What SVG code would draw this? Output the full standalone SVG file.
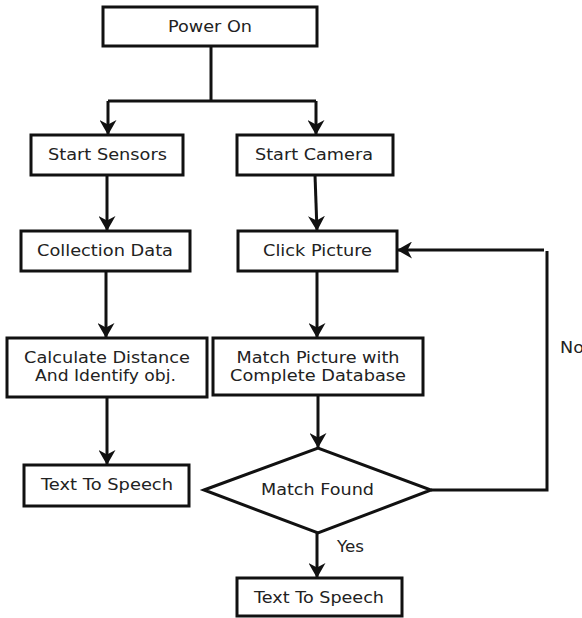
<svg xmlns="http://www.w3.org/2000/svg" width="582" height="618" viewBox="0 0 582 618">
<style>
.box{fill:#fff;stroke:#111;stroke-width:3}
.ln{fill:none;stroke:#111;stroke-width:3}
.t{font-family:"DejaVu Sans",Verdana,sans-serif;font-size:15px;fill:#222;text-anchor:middle}
.ts{text-anchor:start}
</style>
<defs>
<marker id="ah" markerUnits="userSpaceOnUse" markerWidth="15" markerHeight="17" viewBox="0 0 15 17" refX="15" refY="8.5" orient="auto">
<path d="M15,8.5 L0,0 L4.5,8.5 L0,17 Z" fill="#111"/>
</marker>
</defs>
<rect width="582" height="618" fill="#fff"/>
<g id="connectors">
<path class="ln" d="M211,46 V101"/>
<path class="ln" d="M108,101 H316"/>
<path class="ln" d="M108,101 V135" marker-end="url(#ah)"/>
<path class="ln" d="M316,101 V135" marker-end="url(#ah)"/>
<path class="ln" d="M107,175 V231" marker-end="url(#ah)"/>
<path class="ln" d="M315,175 L317,231" marker-end="url(#ah)"/>
<path class="ln" d="M106,271 V338" marker-end="url(#ah)"/>
<path class="ln" d="M317,271 V338" marker-end="url(#ah)"/>
<path class="ln" d="M107,397 V465" marker-end="url(#ah)"/>
<path class="ln" d="M318,395 V448" marker-end="url(#ah)"/>
<path class="ln" d="M317,533 V578" marker-end="url(#ah)"/>
<path class="ln" d="M431,490 H547 V251"/>
<path class="ln" d="M544,250 H397" marker-end="url(#ah)"/>
<text class="t ts" x="337" y="552" textLength="27" lengthAdjust="spacingAndGlyphs">Yes</text>
<text class="t ts" x="560" y="353" textLength="24" lengthAdjust="spacingAndGlyphs">No</text>
</g>
<g id="power-on">
<rect class="box" x="103" y="7" width="214" height="39"/>
<text class="t" x="210" y="32" textLength="84" lengthAdjust="spacingAndGlyphs">Power On</text>
</g>
<g id="start-sensors">
<rect class="box" x="31" y="135" width="152" height="40"/>
<text class="t" x="107.5" y="160" textLength="119" lengthAdjust="spacingAndGlyphs">Start Sensors</text>
</g>
<g id="start-camera">
<rect class="box" x="237" y="135" width="156" height="40"/>
<text class="t" x="314" y="160" textLength="118" lengthAdjust="spacingAndGlyphs">Start Camera</text>
</g>
<g id="collection-data">
<rect class="box" x="21" y="231" width="169" height="40"/>
<text class="t" x="105" y="256" textLength="136" lengthAdjust="spacingAndGlyphs">Collection Data</text>
</g>
<g id="click-picture">
<rect class="box" x="238" y="231" width="159" height="40"/>
<text class="t" x="317.5" y="256" textLength="109" lengthAdjust="spacingAndGlyphs">Click Picture</text>
</g>
<g id="calculate-distance">
<rect class="box" x="7" y="338" width="200" height="59"/>
<text class="t" x="107" y="363" textLength="166" lengthAdjust="spacingAndGlyphs">Calculate Distance</text>
<text class="t" x="105.5" y="381" textLength="141" lengthAdjust="spacingAndGlyphs">And Identify obj.</text>
</g>
<g id="match-picture">
<rect class="box" x="213" y="338" width="210" height="57"/>
<text class="t" x="318" y="363" textLength="163" lengthAdjust="spacingAndGlyphs">Match Picture with</text>
<text class="t" x="318" y="381" textLength="176" lengthAdjust="spacingAndGlyphs">Complete Database</text>
</g>
<g id="text-to-speech-1">
<rect class="box" x="24" y="465" width="165" height="41"/>
<text class="t" x="107" y="490" textLength="132" lengthAdjust="spacingAndGlyphs">Text To Speech</text>
</g>
<g id="match-found">
<polygon class="box" points="204,490 318,448 431,490 318,533"/>
<text class="t" x="317.5" y="495" textLength="113" lengthAdjust="spacingAndGlyphs">Match Found</text>
</g>
<g id="text-to-speech-2">
<rect class="box" x="237" y="578" width="165" height="38"/>
<text class="t" x="319" y="603" textLength="130" lengthAdjust="spacingAndGlyphs">Text To Speech</text>
</g>
</svg>
